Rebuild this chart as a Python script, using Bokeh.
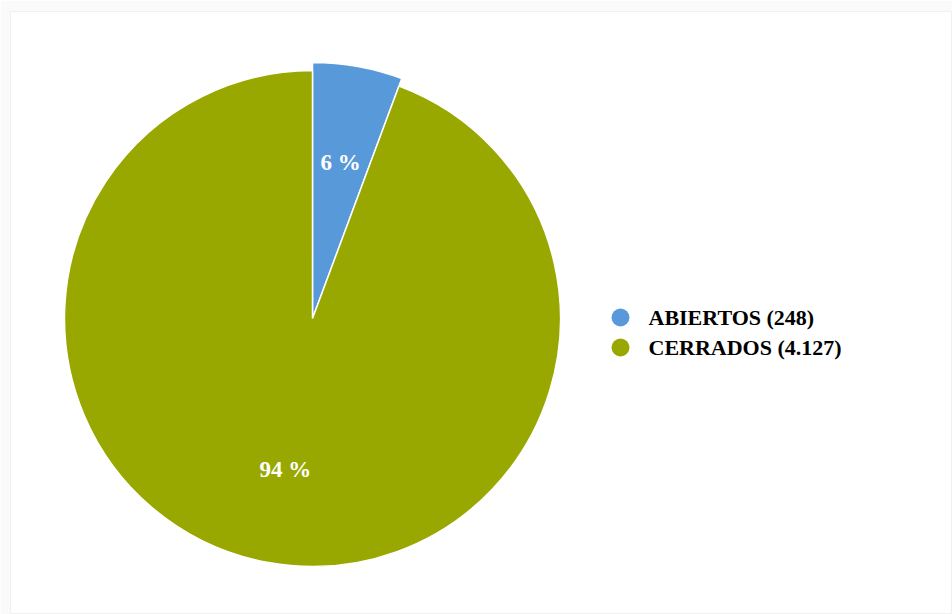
import math
from bokeh.plotting import figure
from bokeh.models import ColumnDataSource
from bokeh.core.properties import value
from bokeh.embed import file_html
from bokeh.resources import INLINE

categories = ["ABIERTOS", "CERRADOS"]
counts = [248, 4127]
colors = ["#5899DA", "#99A800"]

total = sum(counts)
fractions = [c / total for c in counts]

# frame is in pixel-like units
W, H = 942, 603
cx, cy = 302, 296
radii = [256, 248]  # first slice highlighted (larger)

start_angles, end_angles, label_x, label_y, label_txt = [], [], [], [], []
cum = 0.0
for f, r in zip(fractions, radii):
    a0 = math.pi / 2 - 2 * math.pi * cum
    a1 = math.pi / 2 - 2 * math.pi * (cum + f)
    start_angles.append(a0)
    end_angles.append(a1)
    mid = (a0 + a1) / 2
    label_x.append(cx + 0.62 * r * math.cos(mid))
    label_y.append(cy + 0.62 * r * math.sin(mid))
    label_txt.append(f"{round(f * 100)} %")
    cum += f

src = ColumnDataSource(dict(
    start=start_angles, end=end_angles, color=colors, r=radii,
    lx=label_x, ly=label_y, lt=label_txt,
))

p = figure(width=952, height=614, x_range=(0, W), y_range=(0, H),
           output_backend="svg", toolbar_location=None,
           min_border_left=10, min_border_top=11, min_border_right=0, min_border_bottom=0)
p.border_fill_color = "#fafafa"
p.background_fill_color = "white"
p.outline_line_color = "#f0f0f0"
p.axis.visible = False
p.grid.visible = False

p.wedge(x=cx, y=cy, radius="r", start_angle="start", end_angle="end",
        direction="clock", fill_color="color", line_color="white", line_width=1.5,
        source=src)

p.text(x="lx", y="ly", text="lt", source=src, text_color="white",
       text_font=value("Liberation Serif"), text_font_style="bold",
       text_font_size="23px", text_align="center", text_baseline="middle")

# legend
leg_x = [610, 610]
leg_y = [297, 267]
leg_labels = [f"{c} ({format(n, ',').replace(',', '.')})" for c, n in zip(categories, counts)]
lsrc = ColumnDataSource(dict(x=leg_x, y=leg_y, tx=[x + 28 for x in leg_x],
                             color=colors, label=leg_labels))
p.scatter(x="x", y="y", size=18, color="color", source=lsrc, line_color=None)
p.text(x="tx", y="y", text="label", source=lsrc, text_color="black",
       text_font=value("Liberation Serif"), text_font_style="bold",
       text_font_size="22px", text_align="left", text_baseline="middle")

open("out.html", "w").write(file_html(p, INLINE))
